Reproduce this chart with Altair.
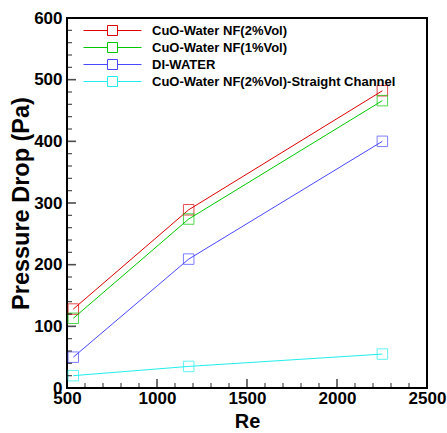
import altair as alt
import pandas as pd

re_vals = [535, 1176, 2252]
series_names = [
    "CuO-Water NF(2%Vol)",
    "CuO-Water NF(1%Vol)",
    "DI-WATER",
    "CuO-Water NF(2%Vol)-Straight Channel",
]
red_vals = [128, 289, 482]
green_vals = [113, 274, 466]
blue_vals = [50, 209, 400]
cyan_vals = [20, 35, 55]
series_colors = ["#dd0000", "#00c800", "#4848ff", "#22eeee"]

x_major = [500, 1000, 1500, 2000, 2500]
x_minor = [v for v in range(600, 2500, 100) if v % 500 != 0]
y_major = [0, 100, 200, 300, 400, 500, 600]
y_minor = [v for v in range(20, 600, 20) if v % 100 != 0]
x_lim = [500, 2500]
y_lim = [0, 600]

rows = []
for name, vals in zip(series_names, [red_vals, green_vals, blue_vals, cyan_vals]):
    for x, y in zip(re_vals, vals):
        rows.append({"Series": name, "Re": x, "dp": y})
df = pd.DataFrame(rows)

FONT = "Liberation Sans"
INK = "#000000"
W, H = 360, 370
xscale = alt.Scale(domain=x_lim, nice=False, zero=False)
yscale = alt.Scale(domain=y_lim, nice=False, zero=False)

legend_path = "M-5.8,0H-1M1,0H5.8M-1,-1H1V1H-1Z"

cscale = alt.Scale(domain=series_names, range=series_colors)
color = alt.Color(
    "Series:N",
    scale=cscale,
    legend=alt.Legend(
        title=None,
        orient="none",
        legendX=39,
        legendY=6,
        padding=0,
        symbolType=legend_path,
        symbolSize=100,
        symbolStrokeWidth=1,
        labelFont=FONT,
        labelFontWeight="bold",
        labelFontSize=13,
        labelColor=INK,
        labelOffset=33,
        rowPadding=2,
        labelLimit=400,
    ),
)

label_x_axis = alt.Axis(
    values=x_major, title="Re", ticks=False, domain=False, grid=False,
    labelFont=FONT, labelFontWeight="bold", labelFontSize=17, labelColor=INK,
    labelPadding=2, labelFlush=False, labelOverlap=False,
    titleFont=FONT, titleFontWeight="bold", titleFontSize=20, titleColor=INK,
    titlePadding=5, format="d",
)
label_y_axis = alt.Axis(
    values=y_major, title="Pressure Drop (Pa)", ticks=False, domain=False, grid=False,
    labelFont=FONT, labelFontWeight="bold", labelFontSize=17, labelColor=INK,
    labelPadding=5, labelFlush=False, labelOverlap=False,
    titleFont=FONT, titleFontWeight="bold", titleFontSize=23.5, titleColor=INK,
    titlePadding=0, format="d",
)

base = alt.Chart(df)
lines = base.mark_line(strokeWidth=1).encode(
    x=alt.X("Re:Q", scale=xscale, axis=label_x_axis),
    y=alt.Y("dp:Q", scale=yscale, axis=label_y_axis),
    color=color,
)
points = base.mark_point(shape="square", size=110, filled=False, strokeWidth=1).encode(
    x="Re:Q",
    y="dp:Q",
    color=alt.Color("Series:N", legend=None, scale=cscale),
)

xmaj_t = alt.Chart(pd.DataFrame({"v": x_major})).mark_tick(
    color=INK, size=9, thickness=1.6, yOffset=-4.5
).encode(x=alt.X("v:Q"), y=alt.datum(0))
xmin_t = alt.Chart(pd.DataFrame({"v": x_minor})).mark_tick(
    color=INK, size=5, thickness=1.2, yOffset=-2.5
).encode(x=alt.X("v:Q"), y=alt.datum(0))
ymaj_t = alt.Chart(pd.DataFrame({"v": y_major})).mark_tick(
    color=INK, size=9, thickness=1.6, xOffset=4.5, orient="horizontal"
).encode(y=alt.Y("v:Q"), x=alt.datum(500))
ymin_t = alt.Chart(pd.DataFrame({"v": y_minor})).mark_tick(
    color=INK, size=5, thickness=1.2, xOffset=2.5, orient="horizontal"
).encode(y=alt.Y("v:Q"), x=alt.datum(500))

chart = (
    alt.layer(lines, points, xmaj_t, xmin_t, ymaj_t, ymin_t)
    .properties(
        width=W,
        height=H,
        autosize=alt.AutoSizeParams(type="none"),
        padding={"left": 67, "top": 18, "right": 20, "bottom": 45},
    )
    .configure_view(stroke=INK, strokeWidth=2)
)

chart.save("out.html", embed_options={"renderer": "svg", "actions": False})
